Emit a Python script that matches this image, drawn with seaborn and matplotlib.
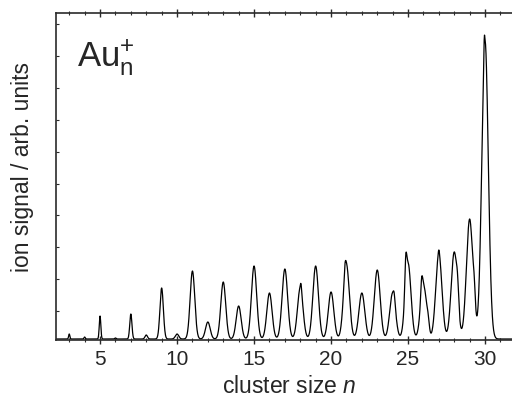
import numpy as np
import pandas as pd
import matplotlib
matplotlib.use("Agg")
import matplotlib.pyplot as plt
import seaborn as sns
from matplotlib.ticker import MultipleLocator, FixedLocator, NullFormatter

sns.set_style("white")
plt.rcParams['font.family'] = ['Liberation Sans', 'DejaVu Sans']
plt.rcParams['mathtext.fontset'] = 'custom'
plt.rcParams['mathtext.rm'] = 'Liberation Sans'
plt.rcParams['mathtext.it'] = 'Liberation Sans:italic'

# ---- data (ion signal, arbitrary units) ----
cluster_size = [3, 4, 5, 6, 7, 8, 9, 10, 11, 12, 13, 14, 15, 16, 17, 18, 19, 20,
                21, 22, 23, 24, 25, 26, 27, 28, 29, 30]
peak_height = [5, 2, 23, 1, 25, 4, 51, 5, 68, 17, 57, 33, 73, 46, 70, 51, 73, 47,
               74, 46, 69, 46, 76, 55, 85, 87, 120, 298]
peak_width = [0.04, 0.04, 0.05, 0.05, 0.07, 0.08, 0.11, 0.11, 0.15, 0.15, 0.16, 0.16,
              0.17, 0.17, 0.18, 0.18, 0.18, 0.18, 0.19, 0.19, 0.19, 0.19, 0.19, 0.19,
              0.20, 0.20, 0.21, 0.21]
# shoulders / side structures of the peaks
shoulder_pos = [18.05, 20.9, 24.1, 24.85, 25.88, 26.3, 27.0, 28.22, 29.3, 29.95]
shoulder_height = [6, 10, 6, 28, 16, 10, 4, 16, 18, 12]
shoulder_width = [0.04, 0.06, 0.05, 0.06, 0.06, 0.08, 0.04, 0.07, 0.07, 0.025]

# ---- build trace from the peaks ----
n_axis = np.linspace(2.14, 31.75, 3000)
signal = np.zeros_like(n_axis)
for c, h, w in zip(cluster_size + shoulder_pos, peak_height + shoulder_height,
                   peak_width + shoulder_width):
    signal += h * np.exp(-0.5 * ((n_axis - c) / w) ** 2)
df = pd.DataFrame({"n": n_axis, "signal": signal})

fig = plt.figure(figsize=(5.12, 3.98), dpi=100)
ax = fig.add_axes([56 / 512, 1 - 340 / 398, 1 - 56 / 512, (340 - 13) / 398])
sns.lineplot(data=df, x="n", y="signal", ax=ax, color="black", linewidth=0.9)

ax.set_xlim(2.14, 31.75)
ax.set_ylim(-1, 326)

spine_col = "#2a2a2a"
for side in ["left", "bottom", "top"]:
    ax.spines[side].set_visible(True)
    ax.spines[side].set_color(spine_col)
    ax.spines[side].set_linewidth(1.2)
ax.spines["right"].set_visible(False)

ax.xaxis.set_major_locator(MultipleLocator(5))
ax.xaxis.set_minor_locator(MultipleLocator(1))
ax.tick_params(axis="x", which="major", direction="inout", length=6, width=1,
               color=spine_col, labelsize=15, pad=4, top=True, bottom=True,
               labeltop=False)
ax.tick_params(axis="x", which="minor", direction="inout", length=3.5, width=0.8,
               color=spine_col, bottom=True, top=True)

ax.yaxis.set_major_locator(FixedLocator([28, 60, 92, 124, 155, 187, 219, 251, 283, 315]))
ax.yaxis.set_major_formatter(NullFormatter())
ax.tick_params(axis="y", which="major", direction="in", length=2.5, width=0.8,
               color=spine_col, left=True, right=False)

ax.set_xlabel(r"cluster size $\it{n}$", fontsize=16.5)
ax.set_ylabel("ion signal / arb. units", fontsize=16.5)
ax.xaxis.set_label_coords(0.511, -0.108)
ax.yaxis.set_label_coords(-0.048, 0.53)

ax.text(0.046, 0.836, r"Au$_{\mathrm{n}}^{+}$", transform=ax.transAxes,
        fontsize=25, va="baseline", ha="left")

fig.savefig("out.png", dpi=100)
